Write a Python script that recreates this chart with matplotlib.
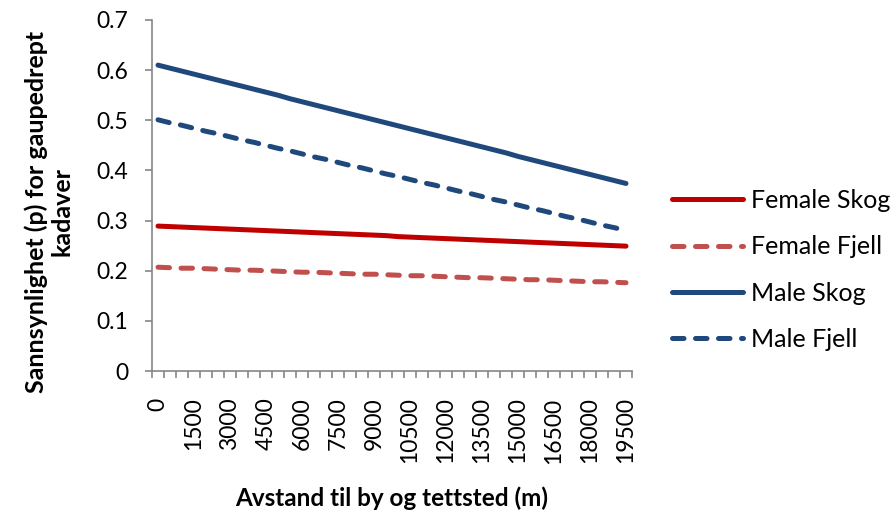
import numpy as np
import matplotlib
matplotlib.use("Agg")
import matplotlib.pyplot as plt

plt.rcParams['font.family'] = ['Lato', 'DejaVu Sans']

# distance categories (m), every 500 m
avstand = list(range(0, 20000, 500))
tick_labels = [str(v) for v in avstand[::3]]

female_skog = [0.289, 0.288, 0.287, 0.286, 0.285, 0.284, 0.283, 0.282, 0.281, 0.280,
               0.279, 0.278, 0.277, 0.276, 0.275, 0.274, 0.273, 0.272, 0.271, 0.270,
               0.268, 0.267, 0.266, 0.265, 0.264, 0.263, 0.262, 0.261, 0.260, 0.259,
               0.258, 0.257, 0.256, 0.255, 0.254, 0.253, 0.252, 0.251, 0.250, 0.249]
female_fjell = [0.207, 0.206, 0.205, 0.205, 0.204, 0.203, 0.202, 0.201, 0.201, 0.200,
                0.199, 0.198, 0.197, 0.197, 0.196, 0.195, 0.194, 0.193, 0.193, 0.192,
                0.191, 0.190, 0.190, 0.189, 0.188, 0.187, 0.186, 0.186, 0.185, 0.184,
                0.183, 0.182, 0.182, 0.181, 0.180, 0.179, 0.178, 0.178, 0.177, 0.176]
male_skog = [0.610, 0.604, 0.598, 0.592, 0.586, 0.580, 0.574, 0.568, 0.562, 0.556,
             0.550, 0.543, 0.537, 0.531, 0.525, 0.519, 0.513, 0.507, 0.501, 0.495,
             0.489, 0.483, 0.477, 0.471, 0.465, 0.459, 0.453, 0.447, 0.441, 0.435,
             0.428, 0.422, 0.416, 0.410, 0.404, 0.398, 0.392, 0.386, 0.380, 0.374]
male_fjell = [0.501, 0.495, 0.490, 0.484, 0.478, 0.473, 0.467, 0.461, 0.456, 0.450,
              0.444, 0.439, 0.433, 0.427, 0.422, 0.416, 0.410, 0.405, 0.399, 0.393,
              0.388, 0.382, 0.376, 0.371, 0.365, 0.359, 0.354, 0.348, 0.342, 0.337,
              0.331, 0.325, 0.320, 0.314, 0.308, 0.303, 0.297, 0.291, 0.286, 0.280]

W, H = 892, 523
fig = plt.figure(figsize=(W / 100, H / 100), dpi=100)
ax = fig.add_axes([152 / W, 1 - 371 / H, 480 / W, 351 / H])

x = np.arange(len(avstand))
lw = 3.6
dash = (2.3, 2.3)
ax.plot(x, female_skog, color='#C00000', lw=lw, solid_capstyle='round', label='Female Skog')
ax.plot(x, female_fjell, color='#C0504D', lw=lw, dash_capstyle='round',
        dashes=dash, label='Female Fjell')
ax.plot(x, male_skog, color='#1F497D', lw=lw, solid_capstyle='round', label='Male Skog')
ax.plot(x, male_fjell, color='#1F497D', lw=lw, dash_capstyle='round',
        dashes=dash, label='Male Fjell')

ax.set_xlim(-0.5, len(avstand) - 0.5)
ax.set_ylim(0, 0.7)
ax.set_yticks(np.arange(0, 0.71, 0.1))
ax.set_yticklabels(['0'] + ['%.1f' % v for v in np.arange(0.1, 0.71, 0.1)])

ax.set_xticks(x[::3])
ax.set_xticklabels(tick_labels, rotation=90)
ax.set_xticks(np.arange(-0.5, len(avstand)), minor=True)
ax.tick_params(axis='x', which='major', length=0, pad=19, labelsize=16.5)
ax.tick_params(axis='x', which='minor', length=5, color='#868686', width=1.2)
ax.tick_params(axis='y', length=5, color='#868686', width=1.2, labelsize=16.5, pad=12)

for side in ['top', 'right']:
    ax.spines[side].set_visible(False)
for side in ['left', 'bottom']:
    ax.spines[side].set_color('#868686')
    ax.spines[side].set_linewidth(1.2)

fig.text(49 / W, 1 - 212 / H, 'Sannsynlighet (p) for gaupedrept\nkadaver', fontsize=18,
         fontweight='bold', rotation=90, ha='center', va='center',
         multialignment='center', linespacing=1.15)
fig.text(392 / W, 1 - 498 / H, 'Avstand til by og tettsted (m)', fontsize=17.5,
         fontweight='bold', ha='center', va='center')

fig.legend(loc='center left', bbox_to_anchor=(672 / W, 1 - 270 / H), frameon=False,
           fontsize=18, handlelength=2.85, labelspacing=0.93, handletextpad=0.3,
           borderpad=0, borderaxespad=0)

fig.savefig('out.png', dpi=100)
